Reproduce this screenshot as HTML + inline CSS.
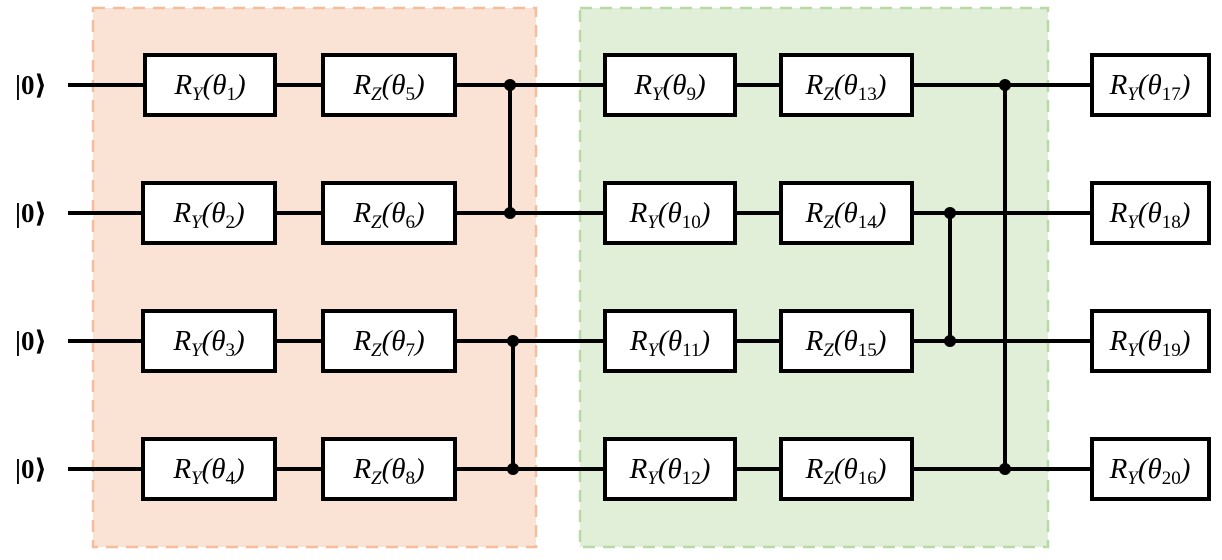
<!DOCTYPE html>
<html><head><meta charset="utf-8"><style>
html,body{margin:0;padding:0;background:#fff;}
svg{display:block;}
text{font-family:"Liberation Serif","DejaVu Serif",serif;font-style:italic;font-size:29px;fill:#000;}
.k{font-style:normal;font-weight:bold;font-size:27px;}
tspan.s{font-size:19px;}
tspan.n{font-size:19px;font-style:normal;}
</style></head><body>
<svg width="1222" height="560" viewBox="0 0 1222 560" xmlns="http://www.w3.org/2000/svg">
<rect x="93" y="8" width="443" height="539" fill="#fae3d5" stroke="#f5bd9c" stroke-width="2.5" stroke-dasharray="12,8"/>
<rect x="580" y="8" width="468" height="539" fill="#e1eed8" stroke="#b9d9a6" stroke-width="2.5" stroke-dasharray="12,8"/>
<g stroke="#000" stroke-width="4">
<line x1="68" y1="85" x2="1092" y2="85"/>
<line x1="68" y1="213" x2="1092" y2="213"/>
<line x1="68" y1="341" x2="1092" y2="341"/>
<line x1="68" y1="469" x2="1092" y2="469"/>
<line x1="510" y1="85" x2="510" y2="213"/>
<line x1="513" y1="341" x2="513" y2="469"/>
<line x1="950" y1="213" x2="950" y2="341"/>
<line x1="1005" y1="85" x2="1005" y2="469"/>
</g>
<g fill="#000">
<circle cx="510" cy="85" r="6"/><circle cx="510" cy="213" r="6"/>
<circle cx="513" cy="341" r="6"/><circle cx="513" cy="469" r="6"/>
<circle cx="950" cy="213" r="6"/><circle cx="950" cy="341" r="6"/>
<circle cx="1005" cy="85" r="6"/><circle cx="1005" cy="469" r="6"/>
</g>
<g fill="#fff" stroke="#000" stroke-width="4">
<rect x="145" y="55" width="130" height="60"/><rect x="323" y="55" width="132" height="60"/>
<rect x="143" y="183" width="132" height="60"/><rect x="323" y="183" width="132" height="60"/>
<rect x="143" y="311" width="132" height="60"/><rect x="323" y="311" width="132" height="60"/>
<rect x="143" y="439" width="132" height="60"/><rect x="323" y="439" width="132" height="60"/>
<rect x="605" y="55" width="130" height="60"/><rect x="781" y="55" width="131" height="60"/>
<rect x="605" y="183" width="130" height="60"/><rect x="781" y="183" width="131" height="60"/>
<rect x="605" y="311" width="130" height="60"/><rect x="781" y="311" width="131" height="60"/>
<rect x="605" y="439" width="130" height="60"/><rect x="781" y="439" width="131" height="60"/>
<rect x="1092" y="55" width="117" height="60"/><rect x="1092" y="183" width="117" height="60"/>
<rect x="1092" y="311" width="117" height="60"/><rect x="1092" y="439" width="117" height="60"/>
</g>
<g>
<text class="k" x="15" y="94">|0⟩</text><text class="k" x="15" y="222">|0⟩</text>
<text class="k" x="15" y="350">|0⟩</text><text class="k" x="15" y="478">|0⟩</text>
</g>
<g text-anchor="middle">
<text x="210" y="94">R<tspan class="s" dy="6">Y</tspan><tspan dy="-6">(θ</tspan><tspan class="n" dy="6">1</tspan><tspan dy="-6">)</tspan></text>
<text x="389" y="94">R<tspan class="s" dy="6">Z</tspan><tspan dy="-6">(θ</tspan><tspan class="n" dy="6">5</tspan><tspan dy="-6">)</tspan></text>
<text x="209" y="222">R<tspan class="s" dy="6">Y</tspan><tspan dy="-6">(θ</tspan><tspan class="n" dy="6">2</tspan><tspan dy="-6">)</tspan></text>
<text x="389" y="222">R<tspan class="s" dy="6">Z</tspan><tspan dy="-6">(θ</tspan><tspan class="n" dy="6">6</tspan><tspan dy="-6">)</tspan></text>
<text x="209" y="350">R<tspan class="s" dy="6">Y</tspan><tspan dy="-6">(θ</tspan><tspan class="n" dy="6">3</tspan><tspan dy="-6">)</tspan></text>
<text x="389" y="350">R<tspan class="s" dy="6">Z</tspan><tspan dy="-6">(θ</tspan><tspan class="n" dy="6">7</tspan><tspan dy="-6">)</tspan></text>
<text x="209" y="478">R<tspan class="s" dy="6">Y</tspan><tspan dy="-6">(θ</tspan><tspan class="n" dy="6">4</tspan><tspan dy="-6">)</tspan></text>
<text x="389" y="478">R<tspan class="s" dy="6">Z</tspan><tspan dy="-6">(θ</tspan><tspan class="n" dy="6">8</tspan><tspan dy="-6">)</tspan></text>
<text x="670" y="94">R<tspan class="s" dy="6">Y</tspan><tspan dy="-6">(θ</tspan><tspan class="n" dy="6">9</tspan><tspan dy="-6">)</tspan></text>
<text x="846" y="94">R<tspan class="s" dy="6">Z</tspan><tspan dy="-6">(θ</tspan><tspan class="n" dy="6">13</tspan><tspan dy="-6">)</tspan></text>
<text x="670" y="222">R<tspan class="s" dy="6">Y</tspan><tspan dy="-6">(θ</tspan><tspan class="n" dy="6">10</tspan><tspan dy="-6">)</tspan></text>
<text x="846" y="222">R<tspan class="s" dy="6">Z</tspan><tspan dy="-6">(θ</tspan><tspan class="n" dy="6">14</tspan><tspan dy="-6">)</tspan></text>
<text x="670" y="350">R<tspan class="s" dy="6">Y</tspan><tspan dy="-6">(θ</tspan><tspan class="n" dy="6">11</tspan><tspan dy="-6">)</tspan></text>
<text x="846" y="350">R<tspan class="s" dy="6">Z</tspan><tspan dy="-6">(θ</tspan><tspan class="n" dy="6">15</tspan><tspan dy="-6">)</tspan></text>
<text x="670" y="478">R<tspan class="s" dy="6">Y</tspan><tspan dy="-6">(θ</tspan><tspan class="n" dy="6">12</tspan><tspan dy="-6">)</tspan></text>
<text x="846" y="478">R<tspan class="s" dy="6">Z</tspan><tspan dy="-6">(θ</tspan><tspan class="n" dy="6">16</tspan><tspan dy="-6">)</tspan></text>
<text x="1150" y="94">R<tspan class="s" dy="6">Y</tspan><tspan dy="-6">(θ</tspan><tspan class="n" dy="6">17</tspan><tspan dy="-6">)</tspan></text>
<text x="1150" y="222">R<tspan class="s" dy="6">Y</tspan><tspan dy="-6">(θ</tspan><tspan class="n" dy="6">18</tspan><tspan dy="-6">)</tspan></text>
<text x="1150" y="350">R<tspan class="s" dy="6">Y</tspan><tspan dy="-6">(θ</tspan><tspan class="n" dy="6">19</tspan><tspan dy="-6">)</tspan></text>
<text x="1150" y="478">R<tspan class="s" dy="6">Y</tspan><tspan dy="-6">(θ</tspan><tspan class="n" dy="6">20</tspan><tspan dy="-6">)</tspan></text>
</g>
</svg>
</body></html>
